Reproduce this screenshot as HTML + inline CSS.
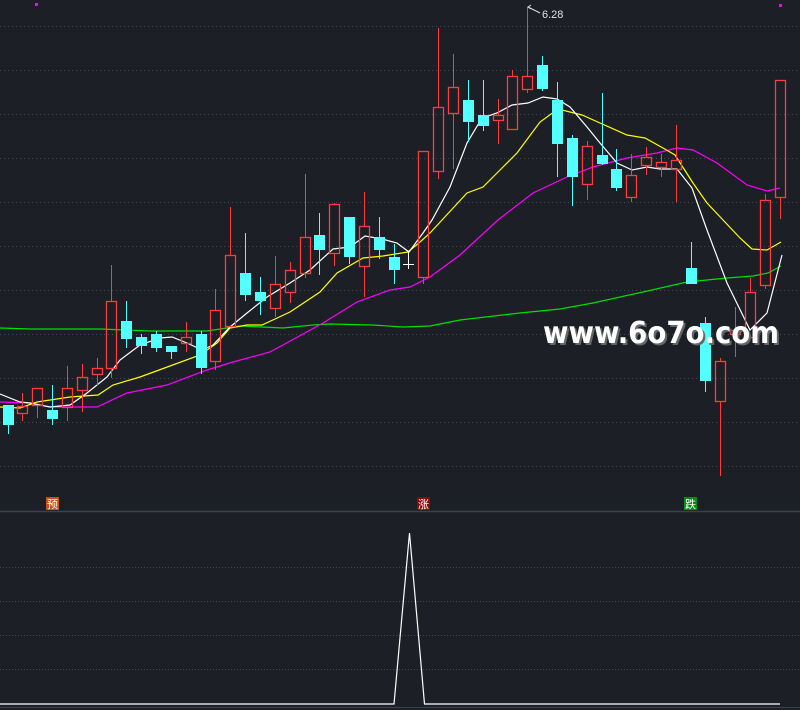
<!DOCTYPE html>
<html><head><meta charset="utf-8"><style>
html,body{margin:0;padding:0;background:#1d1f27;}
svg{display:block;}
</style></head><body>
<svg id="s" width="800" height="710" xmlns="http://www.w3.org/2000/svg">
<rect width="800" height="710" fill="#1d1f27"/>
<g id="grid" stroke="#454955" stroke-width="1" stroke-dasharray="1 3"></g>
<line x1="0" y1="511.5" x2="800" y2="511.5" stroke="#3c414e" stroke-width="1.5"/>
<line x1="0" y1="707.5" x2="800" y2="707.5" stroke="#3c414e" stroke-width="1"/>
<g fill="none" stroke-width="1.2">
<polyline stroke="#00e000" points="0,328 30,329 100,329 150,331 207,331 240,326 283,328 313,325 330,324 372,325 403,327 430,326 460,320 520,313 560,309 593,303 643,292 687,282 727,278 753,276 768,273 781,266"/>
<polyline stroke="#ff00ff" points="0,402 30,403 50,407 97,407 127,393 167,385 207,370 233,362 270,352 283,345 323,323 357,302 390,290 410,287 430,277 460,255 498,220 533,193 567,177 593,167 627,158 657,153 677,148 693,150 717,163 747,185 767,191 780,188"/>
<polyline stroke="#ffff00" points="0,407 20,408 37,402 70,397 98,395 113,385 140,377 170,366 200,355 217,343 230,328 247,325 262,325 290,312 320,292 337,273 363,258 383,256 408,252 420,242 430,233 442,220 467,193 483,187 500,170 517,153 540,122 558,109 582,115 600,123 627,135 645,138 663,148 675,155 693,183 707,203 740,238 752,249 767,250 781,242"/>
<polyline stroke="#ffffff" points="0,394 20,402 30,403 50,407 70,405 87,393 107,377 120,360 140,345 160,338 172,337 187,343 202,350 213,345 230,327 247,313 267,297 290,283 310,270 333,249 350,247 365,236 382,239 397,243 409,252 423,233 432,220 450,187 467,143 482,118 497,113 512,105 528,103 543,97 557,99 570,107 587,127 600,143 617,163 632,170 647,167 660,169 677,169 692,188 707,230 727,283 750,330 767,313 782,255"/>
</g>
<g id="candles"></g>
<rect x="35" y="3" width="3" height="3" fill="#ff00ff"/>
<rect x="779" y="4" width="3" height="3" fill="#ff00ff"/>
<polyline points="528,7 540,13" stroke="#dddddd" fill="none" stroke-width="1"/>
<path d="M531,5 L528,7 L531,9" stroke="#dddddd" fill="none" stroke-width="1"/>
<text x="542" y="18" font-family="Liberation Sans, sans-serif" font-size="11" fill="#e0e0e0">6.28</text>
<text x="545" y="345" font-family="DejaVu Sans, sans-serif" font-weight="bold" font-size="30" fill="#666" textLength="236" lengthAdjust="spacingAndGlyphs">www.6o7o.com</text>
<text x="543" y="343" font-family="DejaVu Sans, sans-serif" font-weight="bold" font-size="30" fill="#ffffff" textLength="236" lengthAdjust="spacingAndGlyphs">www.6o7o.com</text>
<rect x="46" y="497" width="13" height="13" fill="#c4501a"/>
<text x="52.5" y="508" text-anchor="middle" font-family="Liberation Sans, Noto Sans CJK SC, sans-serif" font-size="11" fill="#fff">预</text>
<rect x="417" y="497" width="13" height="13" fill="#8a0a0a"/>
<text x="423.5" y="508" text-anchor="middle" font-family="Liberation Sans, Noto Sans CJK SC, sans-serif" font-size="11" fill="#fff">涨</text>
<rect x="684" y="497" width="13" height="13" fill="#0b8a1a"/>
<text x="690.5" y="508" text-anchor="middle" font-family="Liberation Sans, Noto Sans CJK SC, sans-serif" font-size="11" fill="#fff">跌</text>
<g stroke="#454955" stroke-width="1" stroke-dasharray="1 2">
<line x1="0" y1="567.5" x2="800" y2="567.5"/><line x1="0" y1="601.5" x2="800" y2="601.5"/>
<line x1="0" y1="635.5" x2="800" y2="635.5"/><line x1="0" y1="669.5" x2="800" y2="669.5"/>
</g>
<polyline points="0,704 394,704 409.5,533 424.5,704 780,704" fill="none" stroke="#ffffff" stroke-width="1.2"/>
</svg>
<script>
var NS="http://www.w3.org/2000/svg";
var g=document.getElementById("grid");
for(var y=26;y<=466;y+=44){var l=document.createElementNS(NS,"line");l.setAttribute("x1",0);l.setAttribute("x2",800);l.setAttribute("y1",y+0.5);l.setAttribute("y2",y+0.5);g.appendChild(l);}
var d=[
["C",405,405,425,434],["R",393,406,413,421],["R",388,388,405,418],["C",385,410,419,425],["R",366,388,407,421],
["R",364,377,390,412],["R",358,368,374,385],["R",265,301,368,378],["C",301,321,339,348],["C",334,337,346,354],
["C",331,334,348,352],["C",346,346,352,359],["R",322,337,343,352],["C",331,334,368,374],["R",289,310,361,370],
["R",207,255,326,326],["C",233,273,295,301],["C",277,292,301,315],["R",256,284,308,317],["R",262,270,292,303],
["R",174,237,273,278],["C",213,235,250,275],["R",203,204,253,266],["C",217,217,257,264],["R",192,226,266,297],
["C",217,237,250,259],["C",244,257,270,284],["W",252,264,264,269],["R",151,151,277,284],["R",28,107,171,179],
["R",54,87,113,169],["C",80,100,122,142],["C",80,115,126,131],["R",99,115,120,144],["R",70,76,129,129],
["R",7,76,89,93],["C",56,65,89,91],["C",82,100,144,177],["C",135,138,177,206],["R",141,146,184,200],
["C",93,155,164,165],["C",149,169,188,191],["R",154,175,197,202],["R",147,157,165,175],["R",154,162,167,177],
["R",125,160,169,202],["C",242,268,284,284],["C",317,323,381,392],["R",358,361,401,476],["R",307,330,334,357],
["R",278,292,337,337],["R",194,200,285,289],["R",80,80,197,219]];
var cg=document.getElementById("candles");
function el(n,a){var e=document.createElementNS(NS,n);for(var k in a)e.setAttribute(k,a[k]);cg.appendChild(e);}
for(var i=0;i<d.length;i++){
 var c=7.5+14.85*i, t=d[i][0],h=d[i][1],o=d[i][2],b=d[i][3],lo=d[i][4];
 var xl=Math.round(c-5), xm=Math.round(c)+0.5;
 if(t=="C"){
  el("line",{x1:xm,x2:xm,y1:h,y2:lo,stroke:"#54ffff","stroke-width":1});
  el("rect",{x:xl,y:o,width:11,height:Math.max(1,b-o),fill:"#54ffff"});
 } else if(t=="R"){
  if(o>h)el("line",{x1:xm,x2:xm,y1:h,y2:o,stroke:"#ff3b3b","stroke-width":1});
  if(lo>b)el("line",{x1:xm,x2:xm,y1:b,y2:lo,stroke:"#ff3b3b","stroke-width":1});
  el("rect",{x:xl+0.5,y:o+0.5,width:10,height:Math.max(1,b-o),fill:"none",stroke:"#ff3b3b","stroke-width":1.3});
 } else {
  el("line",{x1:xm,x2:xm,y1:h,y2:lo,stroke:"#fff","stroke-width":1});
  el("line",{x1:xl,x2:xl+11,y1:o+0.5,y2:o+0.5,stroke:"#fff","stroke-width":1});
 }
}
</script>
</body></html>
